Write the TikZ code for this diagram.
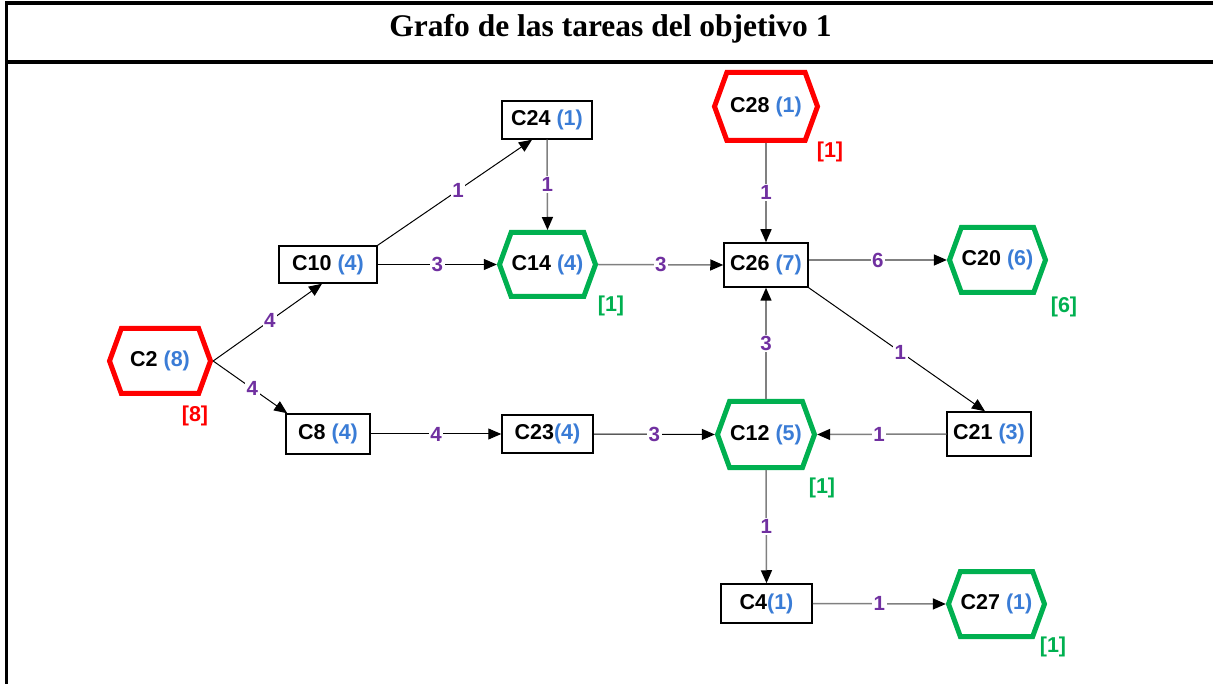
\documentclass[tikz,border=0pt]{standalone}
\usepackage{fontspec}
\setmainfont{Liberation Serif}
\newfontfamily\arialf{Liberation Sans}
\usetikzlibrary{shapes.symbols,arrows.meta}
\definecolor{nblue}{RGB}{58,124,214}
\definecolor{npurple}{RGB}{112,48,160}
\definecolor{ngreen}{RGB}{0,176,80}
\definecolor{nred}{RGB}{255,0,0}
\definecolor{ngray}{RGB}{128,128,128}
\newcommand\wt[1]{\textcolor{nblue}{#1}}
\begin{document}
\begin{tikzpicture}[x=1pt,y=-1pt,
  nodefont/.style={font=\arialf\bfseries\fontsize{21.5}{25}\selectfont},
  box/.style={nodefont,draw=black,line width=1.5pt,fill=white,inner sep=0pt},
  hexg/.style={nodefont,signal,signal to=east and west,signal pointer angle=140,
    draw=ngreen,line width=5pt,fill=white,inner sep=0pt},
  hexr/.style={hexg,draw=nred},
  lvg/.style={nodefont,text=ngreen},
  lvr/.style={nodefont,text=nred},
  ew/.style={fill=white,inner sep=1.5pt,text=npurple,
    font=\arialf\bfseries\fontsize{20.5}{22}\selectfont},
  tipk/.style={-{Triangle[length=13pt,width=11pt,color=black]}},
  ag/.style={draw=ngray,line width=1.5pt,tipk},
  ab/.style={draw=black,line width=1pt,tipk},
  frame/.style={line width=3.5pt,draw=black}
]
\useasboundingbox (0,0) rectangle (1213,684);
% frame
\draw[frame] (6.5,684) -- (6.5,3) -- (1213,3);
\draw[frame] (6.5,62) -- (1213,62);
\node[anchor=base,font=\bfseries\fontsize{31.5}{36}\selectfont] (title) at (610.5,37) {Grafo de las tareas del objetivo 1};

% hexagon nodes
\node[hexr,minimum width=101pt,minimum height=65pt] (c2) at (160,361) {C2 \wt{(8)}};
\node[hexg,minimum width=96pt,minimum height=64pt] (c14) at (547.5,264.5) {C14 \wt{(4)}};
\node[hexr,minimum width=103pt,minimum height=68pt] (c28) at (766,106.5) {C28 \wt{(1)}};
\node[hexg,minimum width=96pt,minimum height=65pt] (c20) at (997.5,260) {C20 \wt{(6)}};
\node[hexg,minimum width=97pt,minimum height=66pt] (c12) at (766,434.5) {C12 \wt{(5)}};
\node[hexg,minimum width=96pt,minimum height=65pt] (c27) at (996.5,604) {C27 \wt{(1)}};

% box nodes
\node[box,minimum width=98pt,minimum height=37pt] (c10) at (328,264.5) {C10 \wt{(4)}};
\node[box,minimum width=84pt,minimum height=40pt] (c8) at (328,434) {C8 \wt{(4)}};
\node[box,minimum width=91pt,minimum height=38pt] (c23) at (547.5,434) {C23\wt{(4)}};
\node[box,minimum width=90pt,minimum height=38pt] (c24) at (547,120) {C24 \wt{(1)}};
\node[box,minimum width=84pt,minimum height=44pt] (c26) at (766,265) {C26 \wt{(7)}};
\node[box,minimum width=84pt,minimum height=44pt] (c21) at (989,434) {C21 \wt{(3)}};
\node[box,minimum width=91pt,minimum height=39pt] (c4) at (766.5,603.5) {C4\wt{(1)}};

% bracket labels
\node[lvr] (l2) at (195,416) {[8]};
\node[lvg] (l14) at (611,306) {[1]};
\node[lvr] (l28) at (830,152) {[1]};
\node[lvg] (l20) at (1064,307) {[6]};
\node[lvg] (l12) at (822,488) {[1]};
\node[lvg] (l27) at (1053,647) {[1]};

% connectors
\draw[ab] (c2.east) -- node[ew,pos=0.52] {4} ([xshift=-6pt]c10.south);
\draw[ab] (c2.east) -- node[ew,pos=0.53] {4} ([xshift=2pt]c8.north west);
\draw[ab] (c10.north east) -- node[ew,pos=0.52] {1} ([xshift=-15pt]c24.south);
\draw[ab] (c10.east) -- node[ew,midway] {3} (c14.west);
\draw[ag] (c24.south) -- node[ew,midway] {1} (c14.north);
\draw[ag] (c14.east) -- node[ew,midway] {3} (c26.west);
\draw[ag] (c28.south) -- node[ew,midway] {1} (c26.north);
\draw[ag] (c26.east |- c20.west) -- node[ew,midway] {6} (c20.west);
\draw[ab] (c26.south east) -- node[ew,pos=0.52] {1} ([xshift=-4pt]c21.north);
\draw[ag] (c12.north) -- node[ew,midway] {3} (c26.south);
\draw[ag] (c21.west) -- node[ew,pos=0.52] {1} (c12.east);
\draw[ab] (c8.east) -- node[ew,midway] {4} (c23.west);
\draw[ab] (c23.east) -- node[ew,midway] {3} (c12.west);
\draw[ag] (c12.south) -- node[ew,midway] {1} (c4.north);
\draw[ag] (c4.east) -- node[ew,midway] {1} (c27.west);
\end{tikzpicture}
\end{document}
